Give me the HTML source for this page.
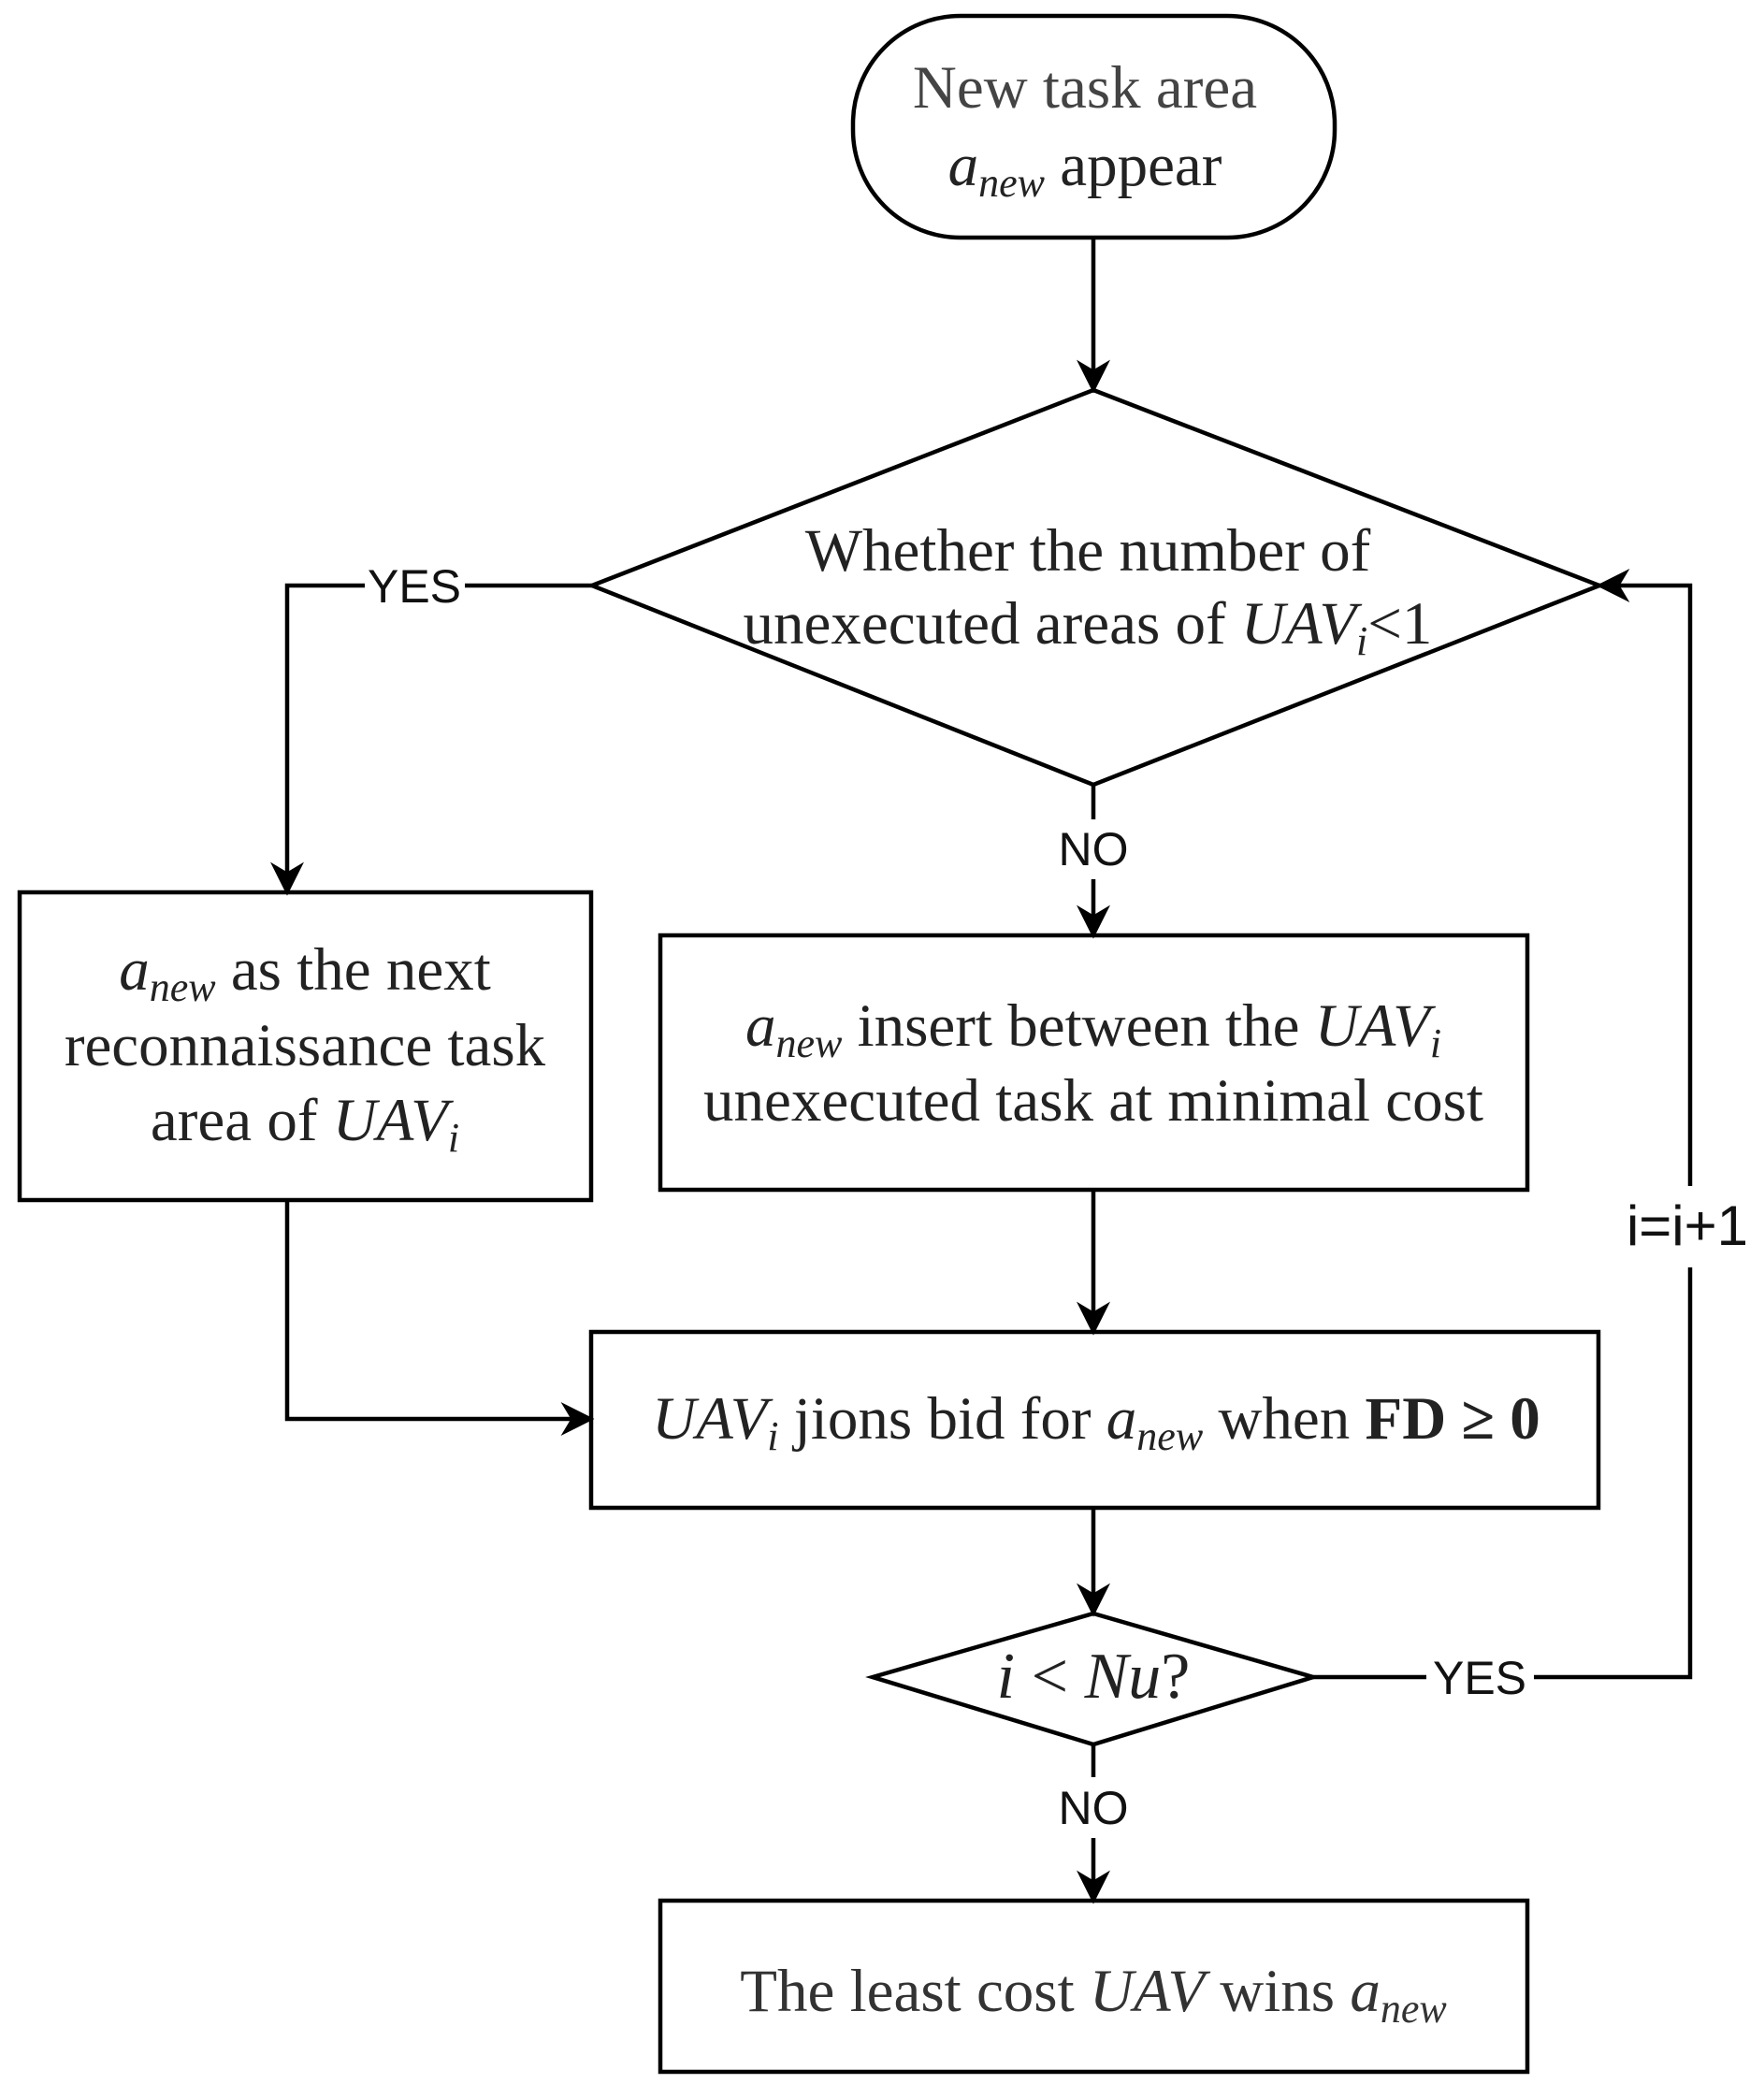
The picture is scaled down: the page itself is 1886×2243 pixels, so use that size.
<!DOCTYPE html>
<html><head><meta charset="utf-8"><style>
html,body{margin:0;padding:0;background:#fff;}
svg{display:block;}
.t{font-family:"Liberation Serif",serif;font-size:65px;fill:#222;}
.m{font-style:italic;}
.s{font-size:44px;font-style:italic;}
.l{font-family:"Liberation Sans",sans-serif;font-size:50px;fill:#111;}
</style></head><body>
<svg width="1886" height="2243" viewBox="0 0 1886 2243" xmlns="http://www.w3.org/2000/svg">
<defs>
<marker id="b" viewBox="0 0 10 10" refX="9" refY="5" markerWidth="36" markerHeight="36" orient="auto" markerUnits="userSpaceOnUse"><path d="M0,0 L10,5 L0,10 L3,5 z" fill="#000"/></marker></defs>
<g fill="none" stroke="#000" stroke-width="4.5">
<rect x="912" y="17" width="515" height="237" rx="115" ry="115" fill="#fff"/>
<polygon points="1169,417 1710,626 1169,839 633,626" fill="#fff"/>
<rect x="21" y="954" width="611" height="329"/>
<rect x="706" y="1000" width="927" height="272"/>
<rect x="632" y="1424" width="1077" height="188"/>
<polygon points="1169,1725 1404,1793 1169,1865 933,1793"/>
<rect x="706" y="2032" width="927" height="183"/>
<line x1="1169" y1="254" x2="1169" y2="417" marker-end="url(#b)"/>
<polyline points="633,626 497,626"/><polyline points="390,626 307,626 307,954" marker-end="url(#b)"/>
<line x1="1169" y1="839" x2="1169" y2="876"/><line x1="1169" y1="940" x2="1169" y2="1000" marker-end="url(#b)"/>
<line x1="1169" y1="1272" x2="1169" y2="1424" marker-end="url(#b)"/>
<polyline points="307,1283 307,1517 632,1517" marker-end="url(#b)"/>
<line x1="1169" y1="1612" x2="1169" y2="1725" marker-end="url(#b)"/>
<line x1="1404" y1="1793" x2="1525" y2="1793"/><polyline points="1640,1793 1807,1793 1807,1355"/>
<polyline points="1807,1268 1807,626 1710,626" marker-end="url(#b)"/>
<line x1="1169" y1="1865" x2="1169" y2="1900"/><line x1="1169" y1="1965" x2="1169" y2="2032" marker-end="url(#b)"/>
</g>
<g class="t" text-anchor="middle">
<text x="1160" y="115" fill="#444">New task area</text>
<text x="1160" y="198"><tspan class="m">a</tspan><tspan class="s" dy="12">new</tspan><tspan dy="-12"> appear</tspan></text>
<text x="1163" y="610">Whether the number of</text>
<text x="1163" y="688">unexecuted areas of <tspan class="m">UAV</tspan><tspan class="s" dy="12">i</tspan><tspan dy="-12">&lt;1</tspan></text>
<text x="326" y="1058"><tspan class="m">a</tspan><tspan class="s" dy="12">new</tspan><tspan dy="-12"> as the next</tspan></text>
<text x="326" y="1139">reconnaissance task</text>
<text x="326" y="1219">area of <tspan class="m">UAV</tspan><tspan class="s" dy="12">i</tspan></text>
<text x="1169" y="1118"><tspan class="m">a</tspan><tspan class="s" dy="12">new</tspan><tspan dy="-12"> insert between the </tspan><tspan class="m">UAV</tspan><tspan class="s" dy="12">i</tspan></text>
<text x="1169" y="1198">unexecuted task at minimal cost</text>
<text x="1172" y="1538"><tspan class="m">UAV</tspan><tspan class="s" dy="12">i</tspan><tspan dy="-12"> jions bid for </tspan><tspan class="m">a</tspan><tspan class="s" dy="12">new</tspan><tspan dy="-12"> when </tspan><tspan font-weight="bold">FD ≥ 0</tspan></text>
<text x="1169" y="1815" font-size="70"><tspan class="m">i</tspan> &lt; <tspan class="m">Nu</tspan>?</text>
<text x="1169" y="2150" fill="#333">The least cost <tspan class="m">UAV</tspan> wins <tspan class="m">a</tspan><tspan class="s" dy="12">new</tspan></text>
</g>
<g class="l" text-anchor="middle">
<text x="443" y="644">YES</text>
<text x="1169" y="925">NO</text>
<text x="1582" y="1811">YES</text>
<text x="1804" y="1331" font-size="60">i=i+1</text>
<text x="1169" y="1950">NO</text>
</g>
</svg>
</body></html>
